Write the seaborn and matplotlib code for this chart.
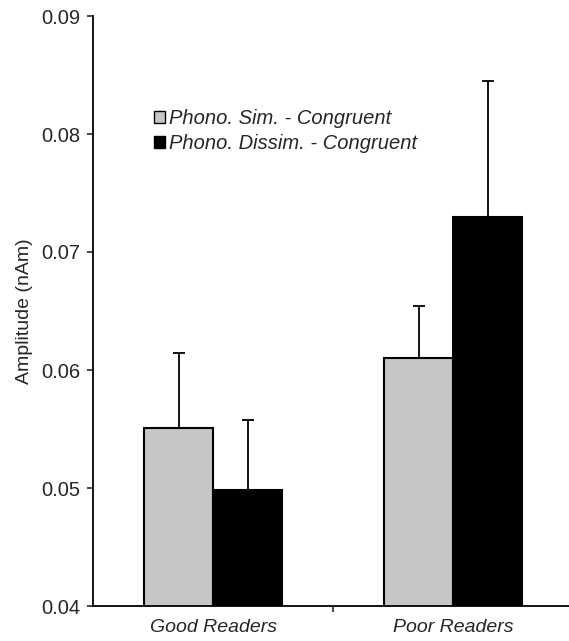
import matplotlib
matplotlib.use("Agg")
import matplotlib.pyplot as plt
import seaborn as sns
import pandas as pd

groups = ["Good Readers", "Poor Readers"]
conditions = ["Phono. Sim. - Congruent", "Phono. Dissim. - Congruent"]
sim_values = [0.0551, 0.0610]
dissim_values = [0.0498, 0.0730]
sim_errors = [0.0063, 0.0044]
dissim_errors = [0.0060, 0.0115]
yticks = [0.04, 0.05, 0.06, 0.07, 0.08, 0.09]

df = pd.DataFrame({
    "Group": groups + groups,
    "Condition": [conditions[0]] * 2 + [conditions[1]] * 2,
    "Amplitude": sim_values + dissim_values,
})
errors = [sim_errors, dissim_errors]

sns.set_style("white")
plt.rcParams["font.family"] = ["Liberation Sans", "DejaVu Sans"]

fig = plt.figure(figsize=(5.69, 6.41), dpi=100)
ax = fig.add_axes([93 / 569, 35 / 641, 476 / 569, 590 / 641])

sns.barplot(data=df, x="Group", y="Amplitude", hue="Condition",
            palette=["#c6c6c6", "#000000"], edgecolor="black", linewidth=1.5,
            width=0.575, errorbar=None, ax=ax, saturation=1)

for cont, errs in zip(ax.containers, errors):
    for bar, e in zip(cont, errs):
        xc = bar.get_x() + bar.get_width() / 2
        ax.errorbar(xc, bar.get_height(), yerr=[[0], [e]], fmt="none",
                    ecolor="black", elinewidth=1.3, capsize=4.5, capthick=1.3,
                    zorder=1)

ax.set_ylim(0.04, 0.09)
ax.set_xlim(-0.5, 1.483)
ax.set_yticks(yticks)
ax.set_yticklabels([f"{t:.2f}" for t in yticks], fontsize=14.5)
ax.set_ylabel("Amplitude (nAm)", fontsize=14, labelpad=6)
ax.set_xlabel("")

ax.set_xticks([0.5])
ax.set_xticklabels([""])
ax.set_xticks([0, 1], minor=True)
ax.set_xticklabels(groups, minor=True, fontsize=14, fontstyle="italic")
ax.tick_params(axis="x", which="minor", length=0, pad=9)
ax.tick_params(axis="x", which="major", direction="out", length=4, width=1.2, bottom=True)
ax.tick_params(axis="y", direction="out", length=4, width=1.2, left=True, pad=5)

for s in ["top", "right"]:
    ax.spines[s].set_visible(False)
for s in ["left", "bottom"]:
    ax.spines[s].set_linewidth(1.3)
    ax.spines[s].set_color("black")

leg = ax.legend(loc="upper left", bbox_to_anchor=(0.128, 0.842), frameon=False,
                prop={"size": 14.5, "style": "italic"}, handlelength=0.55,
                handleheight=0.55, handletextpad=0.2, labelspacing=0.3,
                borderpad=0, borderaxespad=0)
for h in leg.legend_handles:
    h.set_edgecolor("black")
    h.set_linewidth(1.0)

fig.savefig("out.png", dpi=100)
